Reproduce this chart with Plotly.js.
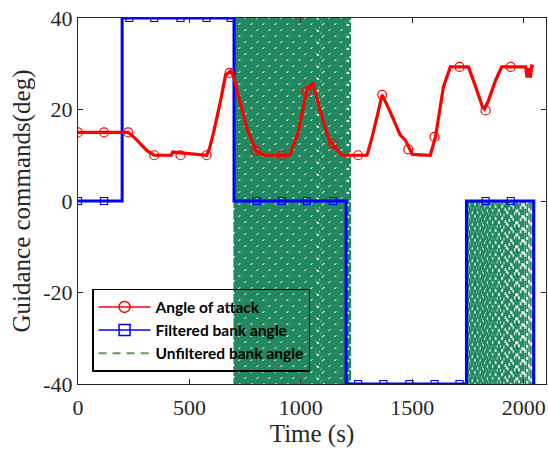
<!DOCTYPE html>
<html>
<head>
<meta charset="utf-8">
<script src="https://cdn.plot.ly/plotly-3.0.1.min.js"></script>
<style>html,body{margin:0;padding:0;background:#fff;}#chart{width:548px;height:449px;}</style>
</head>
<body>
<div id="chart"></div>
<script>
// Angle of attack (line)
const aoaTime = [0, 225, 250, 280, 310, 342, 419, 425, 577, 590, 608, 640, 662, 685, 700, 716, 761, 797, 833, 950, 987, 1027, 1054, 1086, 1122, 1144, 1185, 1297, 1320, 1365, 1401, 1446, 1469, 1500, 1581, 1604, 1640, 1671, 1752, 1784, 1815, 1824, 1842, 1874, 1901, 2009, 2015, 2022, 2030, 2036, 2045];
const aoaValue = [15, 15, 14, 12.5, 11, 10, 10, 10.7, 10, 11.5, 14.9, 22, 27.5, 28.4, 27, 23.6, 15.5, 11.1, 10, 10, 14.8, 24.3, 25.8, 19.9, 14, 12.2, 10, 10, 14, 23.2, 19.5, 14.4, 13.3, 10.2, 10, 14, 25, 29.3, 29.3, 25, 20.6, 20.1, 22, 26.4, 29.3, 29.3, 27, 29, 27, 29.5, 29.3];
// Angle of attack (marker positions)
const aoaMarkTime = [0, 117, 225, 342, 460, 577, 680, 797, 915, 1027, 1144, 1257, 1365, 1482, 1600, 1712, 1829, 1942];
const aoaMarkValue = [15, 15, 15, 10, 10, 10, 28, 11, 10, 24, 12.5, 10, 23.2, 11.3, 14, 29.3, 19.8, 29.3];

// Filtered bank angle
const bankTime = [0, 198, 198, 700, 700, 1203, 1203, 1743, 1743, 2045, 2045];
const bankValue = [0, 0, 40, 40, 0, 0, -40, -40, 0, 0, -40];
const bankMarkTime = [0, 117, 230, 342, 460, 577, 685, 802, 915, 1027, 1144, 1257, 1370, 1487, 1600, 1712, 1829, 1942];
const bankMarkValue = [0, 0, 40, 40, 40, 40, 40, 0, 0, 0, 0, -40, -40, -40, -40, -40, 0, 0];

// Unfiltered bank angle: switching instants of the chattering segments
const chatter1Times = [702, 706, 711, 715, 720, 724, 729, 733, 738, 742, 747, 751, 756, 760, 765, 769, 774, 778, 783, 787, 792, 796, 801, 805, 810, 814, 819, 823, 828, 832, 837, 841, 846, 850, 855, 859, 864, 868, 873, 877, 882, 886, 891, 895, 900, 904, 909, 913, 918, 922, 927, 931, 936, 940, 945, 949, 954, 958, 963, 967, 972, 976, 981, 985, 990, 994, 999, 1003, 1008, 1012, 1017, 1021, 1026, 1030, 1035, 1039, 1044, 1048, 1053, 1057, 1062, 1066, 1072, 1079, 1085, 1090, 1096, 1101, 1106, 1110, 1115, 1119, 1124, 1128, 1133, 1137, 1142, 1146, 1151, 1155, 1160, 1164, 1169, 1173, 1178, 1182, 1187, 1191, 1196, 1200, 1206, 1213, 1221];
const chatter1Levels = [40, -40];
const chatter2Times = [1747, 1751, 1755, 1759, 1763, 1767, 1771, 1775, 1779, 1783, 1787, 1791, 1795, 1799, 1803, 1807, 1811, 1815, 1819, 1823, 1827, 1831, 1835, 1839, 1843, 1847, 1851, 1855, 1859, 1863, 1867, 1871, 1876, 1881, 1886, 1891, 1896, 1901, 1906, 1911, 1917, 1923, 1929, 1935, 1941, 1947, 1953, 1959, 1965, 1972, 1979, 1986, 1993, 2000, 2008, 2016, 2024, 2032, 2040];
const chatter2Levels = [0, -40];

const xTicks = [0, 500, 1000, 1500, 2000];
const yTicks = [-40, -20, 0, 20, 40];

function chatterPath(times, levels) {
  const xs = [], ys = [];
  xs.push(times[0]); ys.push(levels[0]);
  for (let i = 0; i < times.length; i++) {
    const a = levels[i % 2], b = levels[(i + 1) % 2];
    xs.push(times[i], times[i]); ys.push(a, b);
    if (i + 1 < times.length) { xs.push(times[i + 1]); ys.push(b); }
  }
  return {x: xs, y: ys};
}
const c1 = chatterPath(chatter1Times, chatter1Levels);
const c2 = chatterPath(chatter2Times, chatter2Levels);
const green = 'rgb(33,136,95)';

const traces = [
  {x: c1.x, y: c1.y, mode: 'lines', line: {color: green, width: 2, dash: '10px,2px'}, showlegend: false, hoverinfo: 'skip'},
  {x: c2.x, y: c2.y, mode: 'lines', line: {color: green, width: 1.5, dash: '9px,3px'}, showlegend: false, hoverinfo: 'skip'},
  {x: bankTime, y: bankValue, mode: 'lines', line: {color: '#0000ff', width: 3}, showlegend: false},
  {x: bankMarkTime, y: bankMarkValue, mode: 'markers', marker: {symbol: 'square-open', size: 7, color: '#0000ff', line: {width: 1.2}}, showlegend: false},
  {x: aoaTime, y: aoaValue, mode: 'lines', line: {color: '#ff0000', width: 3.2}, showlegend: false},
  {x: aoaMarkTime, y: aoaMarkValue, mode: 'markers', marker: {symbol: 'circle-open', size: 9, color: '#ff0000', line: {width: 1.2}}, showlegend: false},
  {x: [null], y: [null], name: 'Angle of attack', mode: 'lines+markers', line: {color: '#ff0000', width: 1.5}, marker: {symbol: 'circle-open', size: 11, color: '#ff0000', line: {width: 1.5}}, legendrank: 1},
  {x: [null], y: [null], name: 'Filtered bank angle', mode: 'lines+markers', line: {color: '#0000ff', width: 1.5}, marker: {symbol: 'square-open', size: 11, color: '#0000ff', line: {width: 1.5}}, legendrank: 2},
  {x: [null], y: [null], name: 'Unfiltered bank angle', mode: 'lines', line: {color: 'rgb(100,155,90)', width: 2, dash: '8px,6px'}, legendrank: 3}
];

const tickFont = {family: '"Liberation Serif", "Times New Roman", serif', size: 22, color: '#262626'};
const titleFont = {family: '"Liberation Serif", "Times New Roman", serif', size: 25, color: '#262626'};
const layout = {
  width: 548, height: 449,
  margin: {l: 78, r: 2, t: 18, b: 65},
  paper_bgcolor: '#ffffff', plot_bgcolor: '#ffffff',
  showlegend: true,
  legend: {
    x: 0.03, y: 0.26, xanchor: 'left', yanchor: 'top',
    bgcolor: 'rgba(0,0,0,0)', bordercolor: '#000000', borderwidth: 1.5,
    font: {family: 'Lato, "Open Sans", sans-serif', size: 15.5, color: '#000000', weight: 'bold'},
    itemwidth: 52, tracegroupgap: 0, traceorder: 'normal'
  },
  xaxis: {
    range: [0, 2100], tickvals: xTicks, ticktext: xTicks.map(String),
    ticks: 'inside', ticklen: 5, tickcolor: '#262626', mirror: 'ticks',
    showline: true, linecolor: '#262626', linewidth: 1, showgrid: false, zeroline: false,
    tickfont: tickFont, ticklabelstandoff: 4,
    title: {text: 'Time (s)', font: titleFont, standoff: 4}
  },
  yaxis: {
    range: [-40, 40], tickvals: yTicks, ticktext: yTicks.map(String),
    ticks: 'inside', ticklen: 5, tickcolor: '#262626', mirror: 'ticks',
    showline: true, linecolor: '#262626', linewidth: 1, showgrid: false, zeroline: false,
    tickfont: tickFont,
    title: {text: 'Guidance commands(deg)', font: titleFont, standoff: 5}
  }
};

Plotly.newPlot('chart', traces, layout, {displayModeBar: false, staticPlot: true});
</script>
</body>
</html>
